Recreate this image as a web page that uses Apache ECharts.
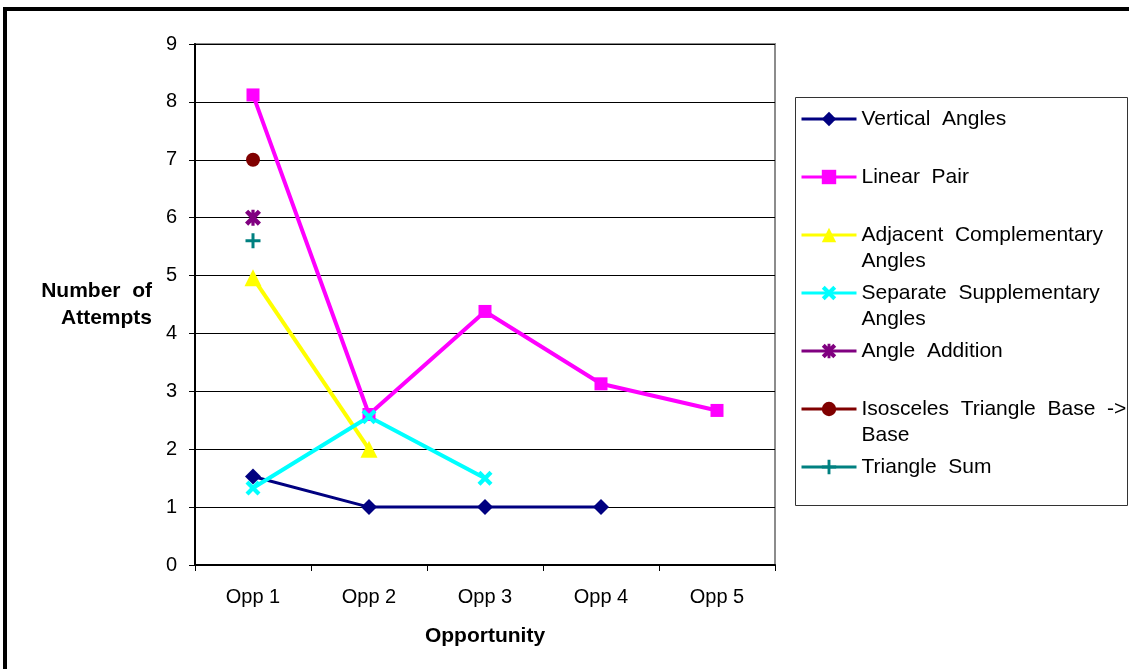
<!DOCTYPE html>
<html>
<head>
<meta charset="utf-8">
<script src="https://cdn.jsdelivr.net/npm/echarts@6/dist/echarts.min.js"></script>
<style>
html, body { margin: 0; padding: 0; background: #fff; }
#chart { width: 1129px; height: 669px; }
</style>
</head>
<body>
<div id="chart"></div>
<script>
// data
const categories = ['Opp 1', 'Opp 2', 'Opp 3', 'Opp 4', 'Opp 5'];
const seriesNames = ['Vertical Angles', 'Linear Pair', 'Adjacent Complementary Angles', 'Separate Supplementary Angles', 'Angle Addition', 'Isosceles Triangle Base -> Base', 'Triangle Sum'];
const legendLabels = ['Vertical  Angles', 'Linear  Pair', 'Adjacent  Complementary\nAngles', 'Separate  Supplementary\nAngles', 'Angle  Addition', 'Isosceles  Triangle  Base  ->\nBase', 'Triangle  Sum'];
const verticalAngles = [1.53, 1, 1, 1, null];
const linearPair = [8.12, 2.6, 4.38, 3.13, 2.67];
const adjacentComplementary = [4.96, 2, null, null, null];
const separateSupplementary = [1.33, 2.56, 1.5, null, null];
const angleAddition = [6, null, null, null, null];
const isoscelesBase = [7, null, null, null, null];
const triangleSum = [5.6, null, null, null, null];
const yMin = 0, yMax = 9, yStep = 1;

const FONT = 'Liberation Sans, Arial, sans-serif';
const xPath = 'path://M0,2L2,0L5,3L8,0L10,2L7,5L10,8L8,10L5,7L2,10L0,8L3,5Z';
const starPath = 'path://M0,2L2,0L5,3L8,0L10,2L7,5L10,8L8,10L5,7L2,10L0,8L3,5Z M4,0L6,0L6,10L4,10Z';
const plusPath = 'path://M4,0H6V4H10V6H6V10H4V6H0V4H4Z';

function lineSeries(name, data, color, symbol, size, width) {
  return {
    name: name,
    type: 'line',
    data: data,
    symbol: symbol,
    symbolSize: size,
    showSymbol: true,
    itemStyle: { color: color },
    lineStyle: { color: color, width: width },
    emphasis: { disabled: true }
  };
}

const chart = echarts.init(document.getElementById('chart'), null, { renderer: 'canvas' });

chart.setOption({
  animation: false,
  backgroundColor: '#fff',
  textStyle: { fontFamily: FONT },
  grid: {
    left: 195, right: 354, top: 44, bottom: 104,
    show: true, borderColor: '#8c8c8c', borderWidth: 2
  },
  graphic: [
    {
      type: 'polyline',
      shape: { points: [[5, 669], [5, 9], [1129, 9]] },
      style: { stroke: '#000', lineWidth: 4, fill: null }
    },
    {
      type: 'rect',
      shape: { x: 795.5, y: 97.5, width: 332, height: 408 },
      style: { stroke: '#333', lineWidth: 1, fill: null }
    }
  ],
  legend: {
    orient: 'vertical',
    left: 800,
    top: 80,
    padding: 0,
    itemGap: -20,
    itemWidth: 55,
    itemHeight: 18,
    selectedMode: false,
    data: seriesNames,
    lineStyle: { width: 3 },
    textStyle: { fontSize: 21, lineHeight: 26, color: '#000', fontFamily: FONT },
    formatter: function (name) {
      const label = legendLabels[seriesNames.indexOf(name)];
      return label.indexOf('\n') >= 0 ? '\n' + label : '\n' + label + '\n';
    }
  },
  xAxis: {
    type: 'category',
    data: categories,
    boundaryGap: true,
    axisLine: { lineStyle: { color: '#000', width: 2 } },
    axisTick: { show: true, length: 6, lineStyle: { color: '#000' } },
    axisLabel: { fontSize: 20, color: '#000', margin: 22, fontFamily: FONT },
    name: 'Opportunity',
    nameLocation: 'middle',
    nameGap: 61,
    nameTextStyle: { fontSize: 21, fontWeight: 'bold', color: '#000', fontFamily: FONT }
  },
  yAxis: {
    type: 'value',
    min: yMin,
    max: yMax,
    interval: yStep,
    axisLine: { show: true, lineStyle: { color: '#000', width: 2 } },
    axisTick: { show: true, length: 6, lineStyle: { color: '#000' } },
    splitLine: { show: true, lineStyle: { color: '#000', width: 1 } },
    axisLabel: { fontSize: 20, color: '#000', margin: 18, fontFamily: FONT },
    name: 'Number  of\nAttempts',
    nameLocation: 'middle',
    nameRotate: 0,
    nameGap: 43,
    nameTextStyle: { fontSize: 21, fontWeight: 'bold', color: '#000', lineHeight: 27, fontFamily: FONT }
  },
  series: [
    lineSeries(seriesNames[0], verticalAngles, '#000080', 'diamond', 16, 3),
    lineSeries(seriesNames[1], linearPair, '#ff00ff', 'rect', 13, 4),
    lineSeries(seriesNames[2], adjacentComplementary, '#ffff00', 'triangle', 17, 4),
    lineSeries(seriesNames[3], separateSupplementary, '#00ffff', xPath, 15, 4),
    lineSeries(seriesNames[4], angleAddition, '#800080', starPath, 16, 3),
    lineSeries(seriesNames[5], isoscelesBase, '#800000', 'circle', 14, 3),
    lineSeries(seriesNames[6], triangleSum, '#008080', plusPath, 15, 3)
  ]
});
</script>
</body>
</html>
